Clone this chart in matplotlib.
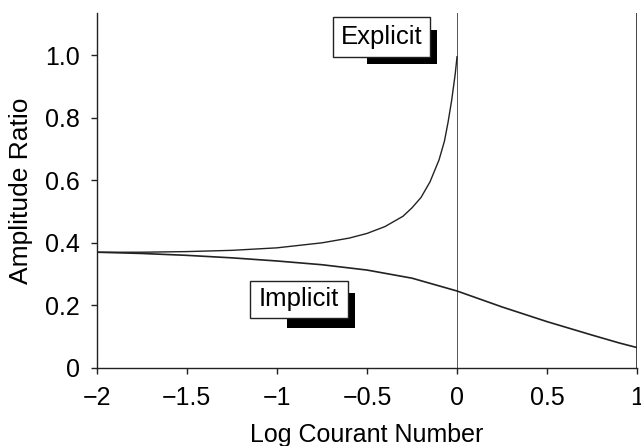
import matplotlib
matplotlib.use("Agg")
import matplotlib.pyplot as plt
from matplotlib.patches import Rectangle

plt.rcParams['font.family'] = ['Liberation Sans', 'DejaVu Sans']

# Explicit scheme
x_explicit = [-2.0, -1.75, -1.5, -1.25, -1.0, -0.75, -0.6, -0.5, -0.4, -0.3, -0.25, -0.2, -0.15, -0.1, -0.07, -0.05, -0.03, -0.01, 0.0]
y_explicit = [0.37, 0.370, 0.372, 0.376, 0.384, 0.400, 0.415, 0.430, 0.452, 0.485, 0.512, 0.545, 0.595, 0.665, 0.725, 0.785, 0.855, 0.94, 0.995]

# Implicit scheme
x_implicit = [-2.0, -1.75, -1.5, -1.25, -1.0, -0.75, -0.5, -0.25, 0.0, 0.25, 0.5, 0.75, 0.9, 1.0]
y_implicit = [0.37, 0.366, 0.360, 0.352, 0.342, 0.330, 0.313, 0.287, 0.246, 0.195, 0.148, 0.105, 0.080, 0.065]

xticks = [-2, -1.5, -1, -0.5, 0, 0.5, 1]
xtick_labels = ["\u22122", "\u22121.5", "\u22121", "\u22120.5", "0", "0.5", "1"]
yticks = [0, 0.2, 0.4, 0.6, 0.8, 1.0]
ytick_labels = ["0", "0.2", "0.4", "0.6", "0.8", "1.0"]

fig = plt.figure(figsize=(6.41, 4.46), dpi=100)
ax = fig.add_axes([0.151, 0.175, 0.843, 0.796])

ax.axvline(0, color='#555555', lw=0.7)
ax.axvline(1, color='#444444', lw=1.4)
ax.plot(x_explicit, y_explicit, color='#222222', lw=1.0)
ax.plot(x_implicit, y_implicit, color='#222222', lw=1.2)

ax.set_xlim(-2, 1)
ax.set_ylim(0, 1.135)
ax.set_xticks(xticks)
ax.set_xticklabels(xtick_labels)
ax.set_yticks(yticks)
ax.set_yticklabels(ytick_labels)
ax.tick_params(axis='both', labelsize=18, length=4, width=1, direction='out', color='#222222')
ax.tick_params(axis='y', pad=8)
ax.tick_params(axis='x', pad=9)
for s in ['top', 'right']:
    ax.spines[s].set_visible(False)
for s in ['left', 'bottom']:
    ax.spines[s].set_linewidth(1.0)
    ax.spines[s].set_color('#222222')

ax.set_xlabel("Log Courant Number", fontsize=18, labelpad=9)
ax.set_ylabel("Amplitude Ratio", fontsize=19, labelpad=9)

# Labelled boxes with drop shadows: (text, box x0, x1, y0, y1, shadow x0, x1, y0, y1)
boxes = [
    ("Explicit", -0.689, -0.150, 0.994, 1.121, -0.500, -0.111, 0.971, 1.080),
    ("Implicit", -1.150, -0.606, 0.160, 0.278, -0.944, -0.567, 0.128, 0.240),
]
for label, bx0, bx1, by0, by1, sx0, sx1, sy0, sy1 in boxes:
    ax.add_patch(Rectangle((sx0, sy0), sx1 - sx0, sy1 - sy0, fc='black', ec='none', zorder=4, clip_on=False))
    ax.add_patch(Rectangle((bx0, by0), bx1 - bx0, by1 - by0, fc='white', ec='#222222', lw=1.0, zorder=5, clip_on=False))
    ax.text((bx0 + bx1) / 2, (by0 + by1) / 2, label, fontsize=18.5, ha='center', va='center', zorder=6)

fig.savefig("out.png", dpi=100)
